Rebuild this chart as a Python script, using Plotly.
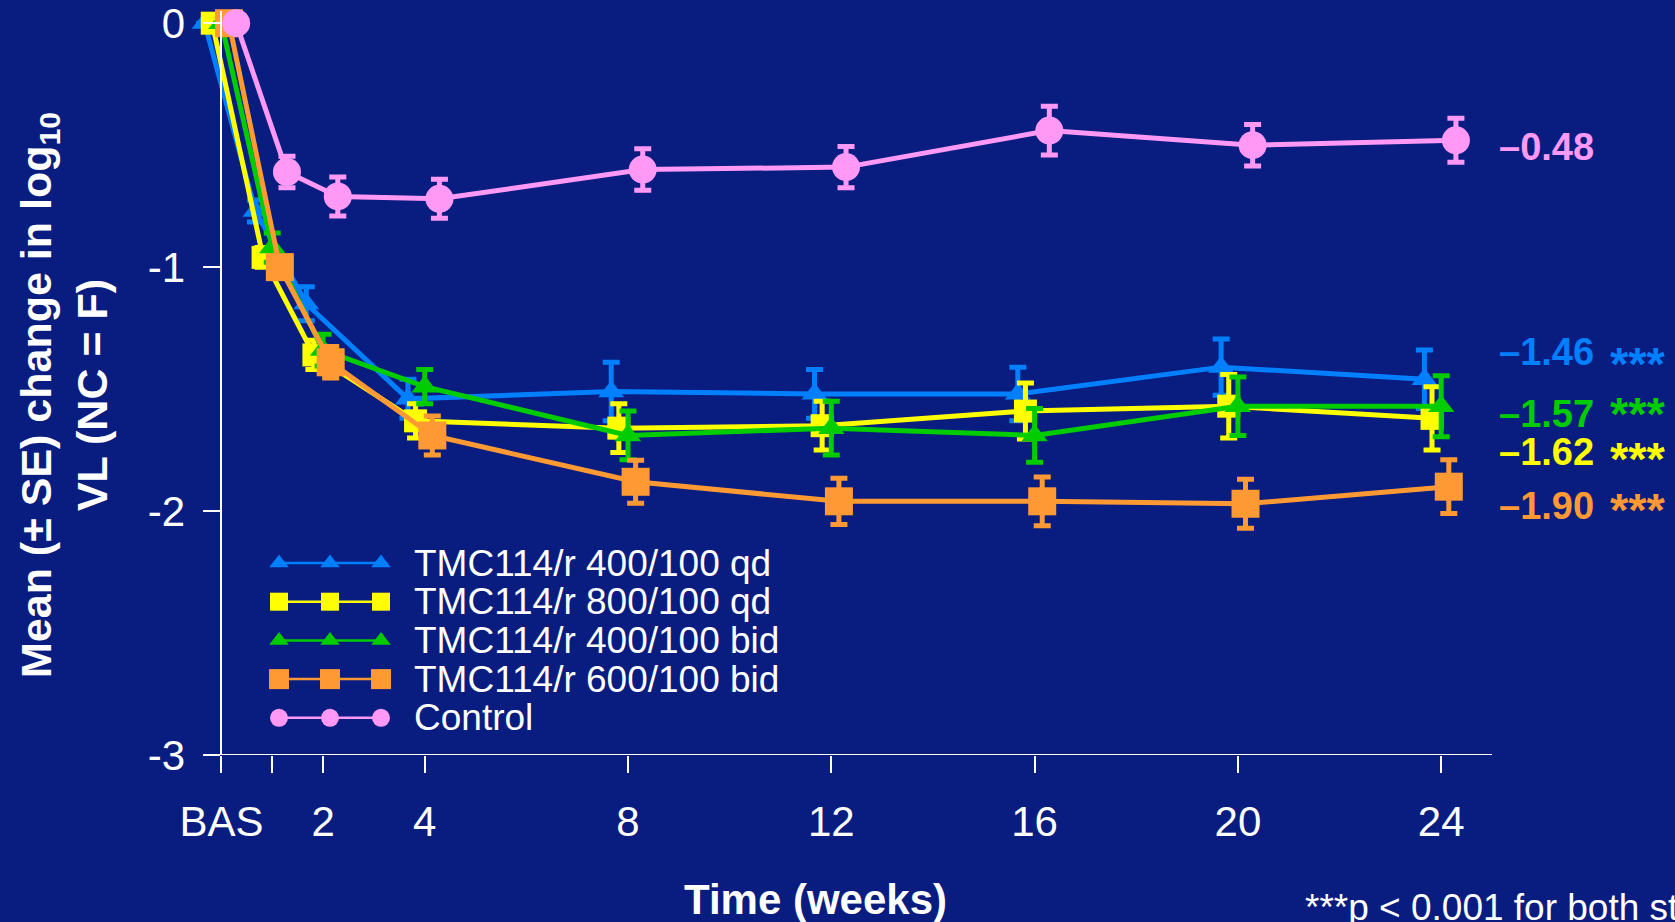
import plotly.graph_objects as go

# ---------------- data ----------------
weeks = [0, 1, 2, 4, 8, 12, 16, 20, 24]
week_labels = ["BAS", "", "2", "4", "8", "12", "16", "20", "24"]

series_names = [
    "TMC114/r 400/100 qd",
    "TMC114/r 800/100 qd",
    "TMC114/r 400/100 bid",
    "TMC114/r 600/100 bid",
    "Control",
]

# mean change in log10 viral load, and its standard error (None = no bar)
qd400_mean = [0, -0.77, -1.15, -1.54, -1.51, -1.52, -1.52, -1.41, -1.46]
qd400_se = [None, 0.045, 0.07, 0.08, 0.12, 0.10, 0.11, 0.115, 0.12]

qd800_mean = [0, -0.96, -1.36, -1.63, -1.66, -1.65, -1.59, -1.57, -1.62]
qd800_se = [None, 0.04, 0.06, 0.07, 0.10, 0.10, 0.115, 0.13, 0.13]

bid400_mean = [0, -0.92, -1.34, -1.49, -1.69, -1.66, -1.69, -1.57, -1.57]
bid400_se = [None, 0.06, 0.065, 0.07, 0.10, 0.11, 0.11, 0.12, 0.125]

bid600_mean = [0, -1.00, -1.39, -1.69, -1.88, -1.96, -1.96, -1.97, -1.90]
bid600_se = [None, 0.04, 0.065, 0.08, 0.088, 0.095, 0.10, 0.10, 0.11]

control_mean = [0, -0.61, -0.71, -0.72, -0.60, -0.59, -0.44, -0.50, -0.48]
control_se = [None, 0.065, 0.08, 0.08, 0.085, 0.085, 0.10, 0.085, 0.09]

significance = ["***", "***", "***", "***", ""]

# ---------------- styling ----------------
BG = "#091d80"
FONT = "Arial, Liberation Sans, sans-serif"
colors = ["#0080ff", "#ffff00", "#00cc00", "#ff9933", "#ff99f5"]
symbols = ["triangle-up", "square", "triangle-up", "square", "circle"]
marker_sizes = [22.5, 23, 23, 28, 28]
legend_marker_sizes = [17, 18, 17, 20, 18]
dodge = [-0.33, -0.18, 0.0, 0.15, 0.29]   # horizontal offset (weeks) per group

means = [qd400_mean, qd800_mean, bid400_mean, bid600_mean, control_mean]
ses = [qd400_se, qd800_se, bid400_se, bid600_se, control_se]

W, H = 1675, 922
X_RANGE = [-0.5, 25]
Y_RANGE = [-3, 0.05]
ML, MR, MT, MB = 196, 183, 11, 167
PLOT_W = W - ML - MR
PLOT_H = H - MT - MB


def px_x(x):
    """pixel column -> paper x"""
    return (x - ML) / PLOT_W


def px_y(y):
    """pixel row -> paper y"""
    return (H - MB - y) / PLOT_H


# pixel rows for the end-of-line value labels and their significance stars
end_label_px = [352, 452, 414, 506, 147]
star_px = [357, 452, 407, 503, None]
# legend rows (pixel layout)
legend_rows = [563, 601.7, 640.4, 679.1, 717.8]

fig = go.Figure()

for name, mean, se, col, sym, ms, dx in zip(series_names, means, ses, colors,
                                            symbols, marker_sizes, dodge):
    fig.add_trace(go.Scatter(
        x=[w + dx for w in weeks],
        y=mean,
        name=name,
        mode="lines+markers",
        line=dict(color=col, width=5),
        marker=dict(symbol=sym, size=ms, color=col, line=dict(width=0)),
        error_y=dict(type="data", array=se, visible=True, color=col,
                     thickness=5, width=8.5),
        cliponaxis=False,
        showlegend=False,
    ))

# hand-drawn legend on a pixel-unit overlay axis (three markers per entry)
for name, col, sym, ms, ry in zip(series_names, colors, symbols,
                                  legend_marker_sizes, legend_rows):
    fig.add_trace(go.Scatter(
        x=[279, 330, 381], y=[ry, ry, ry],
        xaxis="x2", yaxis="y2",
        mode="lines+markers",
        line=dict(color=col, width=2.5),
        marker=dict(symbol=sym, size=ms, color=col, line=dict(width=0)),
        cliponaxis=False, showlegend=False, hoverinfo="skip",
    ))
    fig.add_annotation(x=px_x(412), y=px_y(ry), xref="paper", yref="paper",
                       text=name, showarrow=False, xanchor="left",
                       yanchor="middle",
                       font=dict(family=FONT, size=37, color="white"))

# final-value labels at the right, with significance stars
for mean, col, sig, py, sy in zip(means, colors, significance,
                                  end_label_px, star_px):
    txt = f"{mean[-1]:.2f}".replace("-", "\u2013")
    fig.add_annotation(x=px_x(1497), y=px_y(py), xref="paper", yref="paper",
                       text=f"<b>{txt}</b>", showarrow=False,
                       xanchor="left", yanchor="middle",
                       font=dict(family=FONT, size=38, color=col))
    if sig:
        # asterisk glyphs sit high in the em box, so anchor a little lower;
        # a compact box keeps neighbouring star labels from colliding
        fig.add_annotation(x=px_x(1608), y=px_y(sy + 6), xref="paper",
                           yref="paper", text=f"<b>{sig}</b>", height=34,
                           valign="middle",
                           showarrow=False, xanchor="left", yanchor="middle",
                           font=dict(family=FONT, size=47, color=col))

# axis titles and footnote
fig.add_annotation(x=px_x(64), y=px_y(395), xref="paper", yref="paper",
                   textangle=-90,
                   text="<b>Mean (\u00b1 SE) change in log<sub>10</sub><br>VL (NC = F)</b>",
                   showarrow=False, xanchor="center", yanchor="middle",
                   font=dict(family=FONT, size=43, color="white"))
fig.add_annotation(x=px_x(815), y=px_y(899), xref="paper", yref="paper",
                   text="<b>Time (weeks)</b>", showarrow=False,
                   xanchor="center", yanchor="middle",
                   font=dict(family=FONT, size=42, color="white"))
fig.add_annotation(x=px_x(1303), y=px_y(907), xref="paper", yref="paper",
                   text="***p < 0.001 for both studies", showarrow=False,
                   xanchor="left", yanchor="middle",
                   font=dict(family=FONT, size=37, color="white"))

# x-axis baseline from week 0 to the end of the range
fig.add_shape(type="line", xref="x", yref="y", x0=0, x1=X_RANGE[1],
              y0=Y_RANGE[0], y1=Y_RANGE[0],
              line=dict(color="white", width=2))

fig.update_layout(
    width=W, height=H,
    paper_bgcolor=BG, plot_bgcolor=BG,
    margin=dict(l=ML, r=MR, t=MT, b=MB, pad=0, autoexpand=False),
    showlegend=False,
    xaxis=dict(
        range=X_RANGE, tickmode="array", tickvals=weeks, ticktext=week_labels,
        showline=False,
        ticks="outside", ticklen=17, tickwidth=2, tickcolor="white",
        showgrid=False, zeroline=False, ticklabelstandoff=13,
        tickfont=dict(family=FONT, size=42, color="white"),
    ),
    yaxis=dict(
        range=Y_RANGE, tickmode="array", tickvals=[-3, -2, -1, 0],
        ticktext=["-3", "-2", "-1", "0"],
        anchor="free", position=(0 - X_RANGE[0]) / (X_RANGE[1] - X_RANGE[0]),
        showline=True, linecolor="white", linewidth=2,
        ticks="outside", ticklen=17, tickwidth=2, tickcolor="white",
        showgrid=False, zeroline=False, ticklabelstandoff=10,
        ticklabeloverflow="allow",
        tickfont=dict(family=FONT, size=42, color="white"),
    ),
    xaxis2=dict(range=[ML, W - MR], overlaying="x", visible=False,
                fixedrange=True),
    yaxis2=dict(range=[H - MB, MT], overlaying="y", visible=False,
                fixedrange=True),
)

fig.write_html("out.html")
